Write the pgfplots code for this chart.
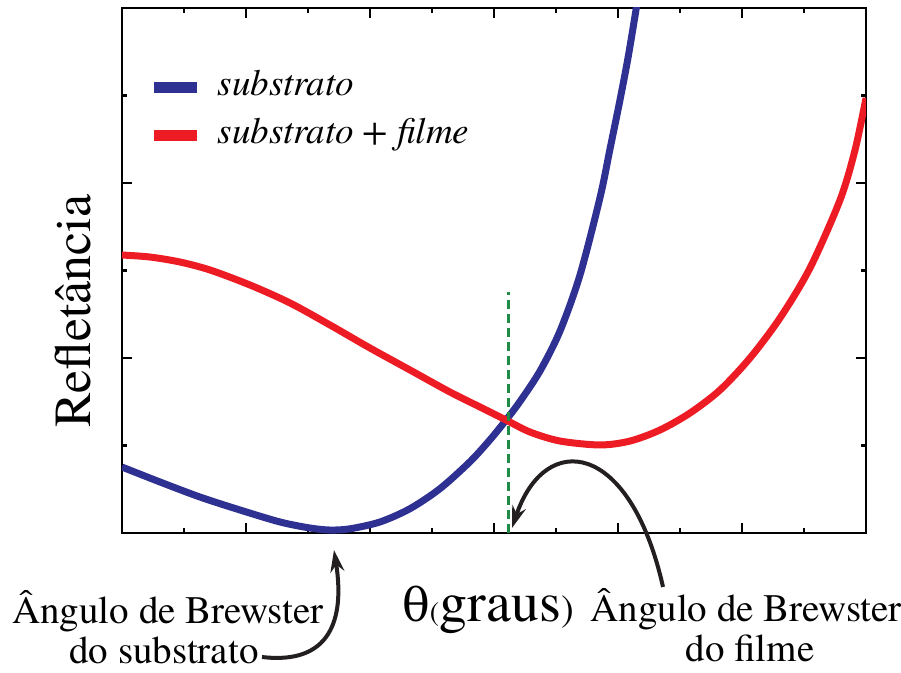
\documentclass[border=0pt]{standalone}
\usepackage{fontspec}
\setmainfont{texgyretermes}[Extension=.otf, UprightFont=*-regular, ItalicFont=*-italic, BoldFont=*-bold, BoldItalicFont=*-bolditalic]
\newfontfamily\greekfont{DejaVu Serif}
\usepackage{pgfplots}
\pgfplotsset{compat=1.18}
\usetikzlibrary{arrows.meta}
\definecolor{cblue}{RGB}{46,49,146}
\definecolor{cred}{RGB}{237,28,36}
\definecolor{cgreen}{RGB}{30,140,70}
\definecolor{carrow}{RGB}{35,31,32}
\begin{document}
\begin{tikzpicture}
\begin{axis}[
  scale only axis, width=744pt, height=525pt,
  xmin=0, xmax=12, ymin=0, ymax=6,
  xtick={2,4,6,8,10}, ytick={2,4},
  minor xtick={1,3,5,7,9,11}, minor ytick={1,3,5},
  xticklabels={}, yticklabels={},
  tick align=inside,
  major tick length=10pt, minor tick length=5pt,
  every tick/.style={black, line width=2.5pt},
  axis line style={line width=2.5pt},
  clip mode=individual,
  legend cell align=left,
  legend style={draw=none, fill=none, inner sep=0pt, outer sep=0pt,
    at={(axis cs:0.43,5.30)}, anchor=north west,
    font=\itshape\fontsize{37}{40}\selectfont,
    nodes={inner sep=0pt, text height=26pt, text depth=9pt},
    row sep=13pt},
  legend image code/.code={\draw[line width=11pt] (0pt,-1pt) -- (43pt,-1pt); \path (60pt,-1pt);},
]
\addplot[cblue, line width=7pt, smooth] coordinates {
(0.000,0.754) (0.613,0.583) (1.258,0.411) (1.903,0.263) (2.548,0.126)
(3.032,0.057) (3.355,0.034) (3.677,0.048) (4.161,0.126) (4.645,0.278)
(5.129,0.507) (5.613,0.815) (5.935,1.065) (6.194,1.291) (6.419,1.503)
(6.742,1.851) (7.065,2.309) (7.387,2.949) (7.710,3.834) (7.871,4.389)
(8.032,4.949) (8.161,5.429) (8.290,5.977) (8.419,6.549)
};
\addlegendentry{substrato}
\addplot[cred, line width=7pt, smooth] coordinates {
(0.000,3.177) (0.452,3.154) (0.935,3.097) (1.419,3.006) (2.065,2.834)
(2.710,2.629) (3.355,2.377) (4.000,2.114) (4.645,1.863) (5.290,1.611)
(5.774,1.440) (6.194,1.291) (6.581,1.154) (7.065,1.051) (7.710,1.006)
(8.194,1.051) (8.677,1.177) (9.161,1.371) (9.645,1.634) (10.129,2.000)
(10.613,2.457) (11.097,3.029) (11.581,3.806) (11.823,4.377) (12.000,4.971)
};
\addlegendentry{substrato + filme}
\addplot[cgreen, line width=2.5pt, dash pattern=on 9pt off 5pt, forget plot] coordinates {(6.23,0) (6.23,2.75)};
\coordinate (SW) at (rel axis cs:0,0);
\coordinate (NE) at (rel axis cs:1,1);
\draw[carrow, line width=4pt, -{Stealth[length=22pt,width=14pt]}]
  (axis cs:2.258,-1.417) .. controls (axis cs:3.355,-1.509) and (axis cs:3.597,-0.994) .. (axis cs:3.419,-0.194);
\draw[carrow, line width=4pt, -{Stealth[length=22pt,width=14pt]}]
  (axis cs:8.726,-0.617) .. controls (axis cs:8.194,1.063) and (axis cs:6.823,1.177) .. (axis cs:6.290,0.057);
\node[anchor=base, font=\fontsize{39}{40}\selectfont] at (axis cs:0.742,-1.029) {Ângulo de Brewster};
\node[anchor=base, font=\fontsize{39}{40}\selectfont] at (axis cs:0.677,-1.486) {do substrato};
\node[anchor=base, font=\fontsize{39}{40}\selectfont] at (axis cs:10.065,-1.006) {Ângulo de Brewster};
\node[anchor=base, font=\fontsize{39}{40}\selectfont] at (axis cs:10.129,-1.474) {do filme};
\node[anchor=base west, inner sep=0pt] at (axis cs:4.516,-1.017)
  {{\greekfont\fontsize{46}{46}\selectfont θ}{\fontsize{28}{28}\selectfont (}{\fontsize{56}{56}\selectfont graus}{\fontsize{38}{38}\selectfont )}};
\node[anchor=base, rotate=90, font=\fontsize{52}{54}\selectfont] at (axis cs:-0.516,2.537) {Refletância};
\end{axis}
\pgfresetboundingbox
\path ([shift={(-122pt,-139pt)}]SW) rectangle ([shift={(35pt,8pt)}]NE);
\end{tikzpicture}
\end{document}
